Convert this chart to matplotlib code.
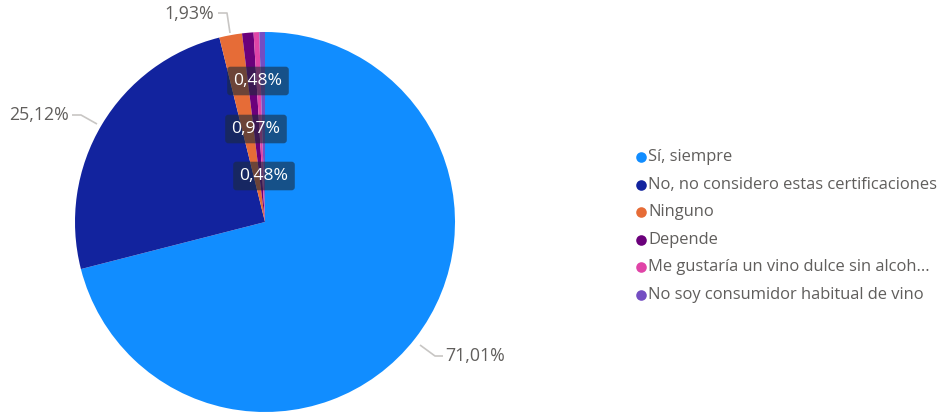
import matplotlib
matplotlib.use("Agg")
import matplotlib.pyplot as plt
import numpy as np

plt.rcParams['font.family'] = ['Open Sans', 'DejaVu Sans']

categories = ["Sí, siempre", "No, no considero estas certificaciones", "Ninguno",
              "Depende", "Me gustaría un vino dulce sin alcoh...",
              "No soy consumidor habitual de vino"]
values = [71.01, 25.12, 1.93, 0.97, 0.48, 0.48]
labels = ["71,01%", "25,12%", "1,93%", "0,97%", "0,48%", "0,48%"]
colors = ["#118DFF", "#12239E", "#E66C37", "#6B007B", "#E044A7", "#744EC2"]

W, H = 945, 415
fig = plt.figure(figsize=(W / 100, H / 100), dpi=100)
ax = fig.add_axes([0, 0, 1, 1])

cx, cy, r = 265, H - 222, 190
ax.pie(values, colors=colors, startangle=90, counterclock=False,
       center=(cx, cy), radius=r, frame=True,
       wedgeprops=dict(linewidth=0))
ax.set_xlim(0, W)
ax.set_ylim(0, H)
ax.set_aspect('equal')
ax.axis('off')

grey = "#605E5C"
line_c = "#C8C6C4"

# outside labels with leader lines (pixel coords, y measured from top)
def outside(label, pts, txt_xy, ha):
    xs = [p[0] for p in pts]
    ys = [H - p[1] for p in pts]
    ax.plot(xs, ys, color=line_c, lw=1.2, solid_capstyle='butt')
    ax.text(txt_xy[0], H - txt_xy[1], label, ha=ha, va='center',
            color=grey, fontsize=12.8)

outside(labels[0], [(420, 345), (435, 356), (443, 356)], (445, 356), 'left')
outside(labels[1], [(97, 124), (81, 115), (72, 115)], (69, 115), 'right')
outside(labels[2], [(230, 33), (227, 13), (218, 13)], (214, 14), 'right')

# stacked inside labels for the thin slices
box = dict(boxstyle='round,pad=0.36,rounding_size=0.18', fc='#1B2A3A',
           ec='none', alpha=0.6)
for lab, (x, y) in zip([labels[5], labels[3], labels[4]],
                       [(258, 81), (256, 129), (264, 176)]):
    ax.text(x, H - y, lab, ha='center', va='center', color='white',
            fontsize=12.6, bbox=box)

# legend
ly0, dy = 157, 27.6
for i, (cat, col) in enumerate(zip(categories, colors)):
    y = H - (ly0 + i * dy)
    ax.scatter([641], [y], s=58, color=col, linewidths=0)
    ax.text(648, y, cat, ha='left', va='center', color=grey, fontsize=11.9)

fig.savefig("out.png", dpi=100)
